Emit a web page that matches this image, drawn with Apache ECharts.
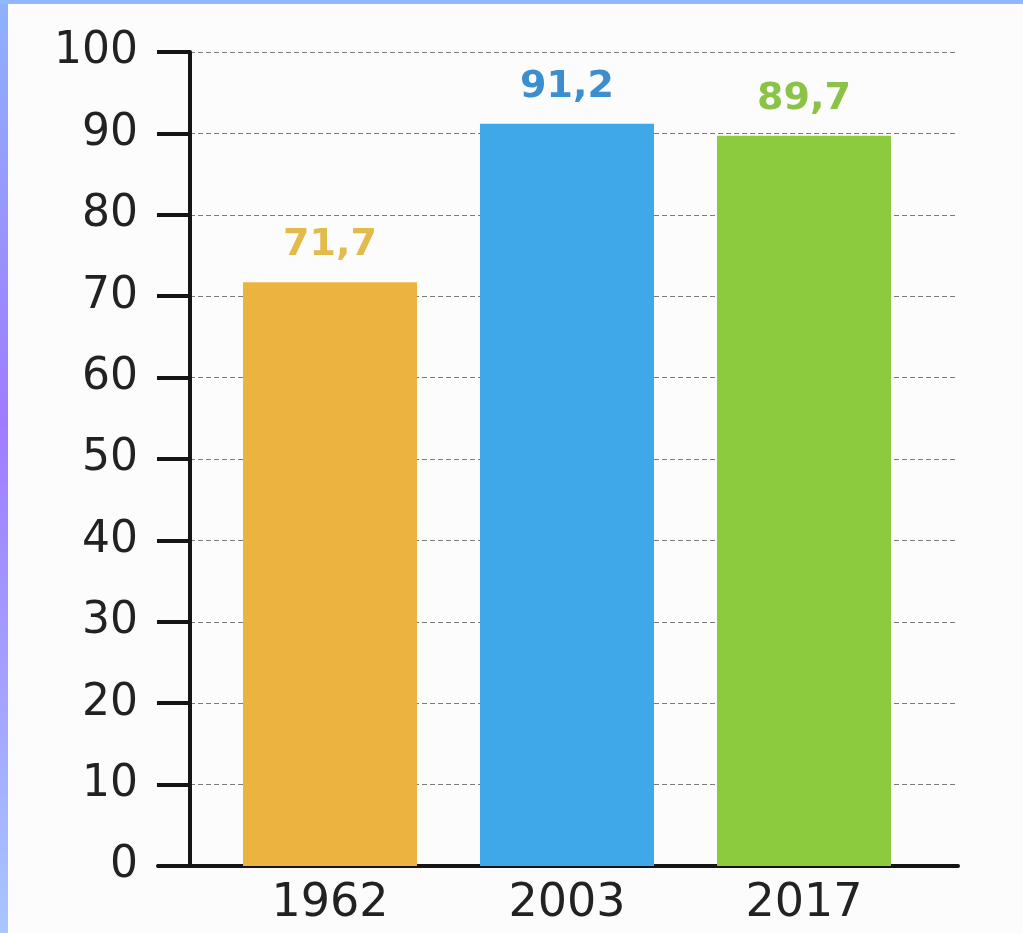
<!DOCTYPE html>
<html><head><meta charset="utf-8">
<script src="https://cdn.jsdelivr.net/npm/echarts@6/dist/echarts.min.js"></script>
<style>
html,body{margin:0;padding:0;background:#fcfcfc;overflow:hidden}
#wrap{position:relative;width:1023px;height:933px}
#c{position:absolute;left:0;top:0;width:1023px;height:933px}
#bl{position:absolute;left:0;top:0;width:8px;height:933px;background:linear-gradient(#8fb2fb,#a07cfd 45%,#a8c6ff);z-index:5}
#bt{position:absolute;left:0;top:0;width:1023px;height:4px;background:#93b7fb;z-index:5}
</style>
</head><body>
<div id="wrap"><div id="c"></div><div id="bl"></div><div id="bt"></div></div>
<script>
const years = ['1962', '2003', '2017'];
const values = [71.7, 91.2, 89.7];
const barColors = ['#ECB43F', '#3EA8E8', '#8CCB3E'];
const labelColors = ['#E2BB4C', '#3B8ECF', '#8BC346'];
const yTicks = [0, 10, 20, 30, 40, 50, 60, 70, 80, 90, 100];

const chart = echarts.init(document.getElementById('c'), null, {renderer: 'canvas'});
const axisFont = 'DejaVu Sans';
chart.setOption({
  backgroundColor: 'transparent',
  animation: false,
  grid: [
    {left: 158, right: 65, top: 52, bottom: 67},
    {left: 190, right: 65, top: 52, bottom: 67},
    {left: 211.5, right: 100.5, top: 52, bottom: 67}
  ],
  xAxis: [
    {gridIndex: 0, type: 'value', min: 0, max: 1,
     axisLine: {show: true, lineStyle: {color: '#151515', width: 4}},
     axisTick: {show: false}, axisLabel: {show: false}, splitLine: {show: false}},
    {gridIndex: 1, type: 'value', min: 0, max: 1, show: false},
    {gridIndex: 2, type: 'category', data: years,
     axisLine: {show: false}, axisTick: {show: false},
     axisLabel: {fontSize: 46, color: '#222', margin: 15, fontFamily: axisFont}}
  ],
  yAxis: [
    {gridIndex: 0, type: 'value', min: 0, max: 100, show: false},
    {gridIndex: 1, type: 'value', min: yTicks[0], max: yTicks[yTicks.length - 1], interval: 10,
     axisLine: {show: true, lineStyle: {color: '#151515', width: 4}},
     axisTick: {show: true, length: 33, lineStyle: {color: '#151515', width: 4}},
     axisLabel: {margin: 52, fontSize: 44, color: '#222', fontFamily: axisFont},
     splitLine: {show: true, lineStyle: {type: [5, 3], color: '#7a7a7a', width: 1}}},
    {gridIndex: 2, type: 'value', min: 0, max: 100, show: false}
  ],
  series: [{
    type: 'bar',
    xAxisIndex: 2, yAxisIndex: 2,
    barWidth: 174,
    data: values.map((v, i) => ({
      value: v,
      itemStyle: {color: barColors[i]},
      label: {color: labelColors[i]}
    })),
    label: {
      show: true, position: 'top', distance: 18,
      fontSize: 38, fontWeight: 'bold', fontFamily: axisFont,
      formatter: p => p.value.toFixed(1).replace('.', ',')
    }
  }]
});
</script>
</body></html>
